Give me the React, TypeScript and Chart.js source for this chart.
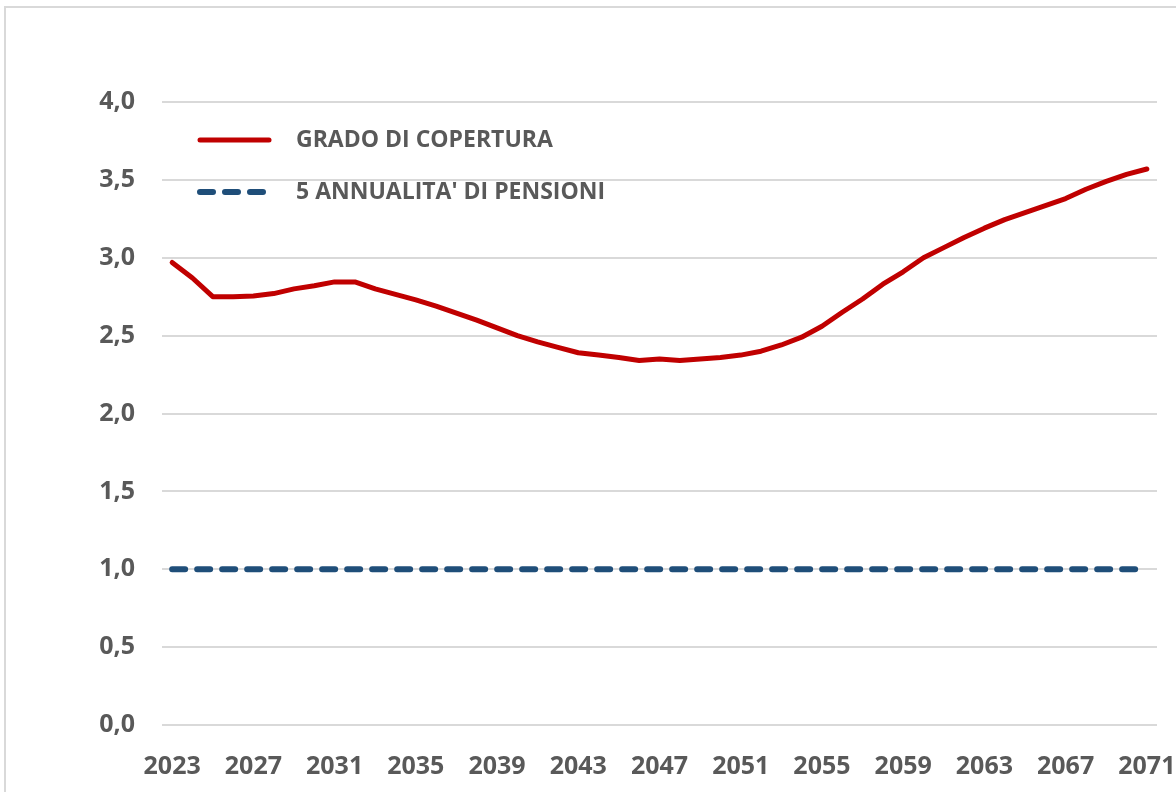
import React, { useEffect, useRef } from "react";
import { Chart, registerables } from "chart.js";

Chart.register(...registerables);

const years: string[] = [
  "2023", "2024", "2025", "2026", "2027", "2028", "2029", "2030", "2031", "2032",
  "2033", "2034", "2035", "2036", "2037", "2038", "2039", "2040", "2041", "2042",
  "2043", "2044", "2045", "2046", "2047", "2048", "2049", "2050", "2051", "2052",
  "2053", "2054", "2055", "2056", "2057", "2058", "2059", "2060", "2061", "2062",
  "2063", "2064", "2065", "2066", "2067", "2068", "2069", "2070", "2071",
];

const gradoCopertura: number[] = [
  2.97, 2.87, 2.75, 2.75, 2.755, 2.77, 2.8, 2.82, 2.845, 2.845,
  2.8, 2.765, 2.73, 2.69, 2.645, 2.6, 2.55, 2.5, 2.46, 2.425,
  2.39, 2.375, 2.36, 2.34, 2.35, 2.34, 2.35, 2.36, 2.375, 2.4,
  2.44, 2.49, 2.56, 2.65, 2.735, 2.83, 2.91, 3.0, 3.065, 3.13,
  3.19, 3.245, 3.29, 3.335, 3.38, 3.44, 3.49, 3.535, 3.57,
];

const cinqueAnnualita: number[] = [
  1, 1, 1, 1, 1, 1, 1, 1, 1, 1,
  1, 1, 1, 1, 1, 1, 1, 1, 1, 1,
  1, 1, 1, 1, 1, 1, 1, 1, 1, 1,
  1, 1, 1, 1, 1, 1, 1, 1, 1, 1,
  1, 1, 1, 1, 1, 1, 1, 1, 1,
];

const seriesLabels: string[] = ["GRADO DI COPERTURA", "5 ANNUALITA' DI PENSIONI"];

const FONT = "'Open Sans', 'Noto Sans', sans-serif";
const TEXT = "#595959";
const RED = "#c00000";
const BLUE = "#1f4e79";

const legendPlugin = {
  id: "insideLegend",
  afterDraw(chart: any) {
    const ctx = chart.ctx;
    const area = chart.chartArea;
    const x0 = area.left + 36;
    const rows = [area.top + 38, area.top + 90];
    ctx.save();
    chart.data.datasets.forEach((ds: any, i: number) => {
      const y = rows[i];
      ctx.beginPath();
      ctx.strokeStyle = ds.borderColor;
      ctx.lineWidth = ds.borderWidth;
      ctx.lineCap = "round";
      ctx.setLineDash(ds.borderDash || []);
      ctx.moveTo(x0 + 2, y);
      ctx.lineTo(x0 + 71, y);
      ctx.stroke();
      ctx.setLineDash([]);
      ctx.fillStyle = TEXT;
      ctx.font = `bold 23px ${FONT}`;
      ctx.textBaseline = "middle";
      ctx.textAlign = "left";
      ctx.fillText(ds.label, x0 + 98, y);
    });
    ctx.restore();
  },
};

export default function App() {
  const canvasRef = useRef<HTMLCanvasElement | null>(null);

  useEffect(() => {
    const canvas = canvasRef.current;
    if (!canvas) return;
    const chart = new Chart(canvas, {
      type: "line",
      data: {
        labels: years,
        datasets: [
          {
            label: seriesLabels[0],
            data: gradoCopertura,
            borderColor: RED,
            backgroundColor: RED,
            borderWidth: 5,
            pointRadius: 0,
            tension: 0,
            borderCapStyle: "round",
            borderJoinStyle: "round",
          },
          {
            label: seriesLabels[1],
            data: cinqueAnnualita,
            borderColor: BLUE,
            backgroundColor: BLUE,
            borderWidth: 6,
            borderDash: [13, 12],
            borderCapStyle: "round",
            pointRadius: 0,
          },
        ],
      },
      options: {
        animation: false,
        responsive: false,
        maintainAspectRatio: false,
        layout: { padding: { top: 102, right: 19, left: 0, bottom: 0 } },
        plugins: {
          legend: { display: false },
          tooltip: { enabled: false },
        },
        scales: {
          x: {
            offset: true,
            grid: { display: false, drawTicks: false },
            border: { display: false },
            ticks: {
              autoSkip: false,
              maxRotation: 0,
              minRotation: 0,
              padding: 27,
              color: TEXT,
              font: { family: FONT, size: 25, weight: "bold" },
              callback: (_v: any, i: number) => (i % 4 === 0 ? years[i] : ""),
            },
            afterFit: (s: any) => {
              s.height = 67;
              s.paddingLeft = 0;
              s.paddingRight = 0;
            },
          },
          y: {
            min: 0,
            max: 4,
            grid: { color: "#d9d9d9", lineWidth: 2, drawTicks: false },
            border: { display: false },
            ticks: {
              stepSize: 0.5,
              padding: 27,
              color: TEXT,
              font: { family: FONT, size: 25, weight: "bold" },
              callback: (v: any) => Number(v).toFixed(1).replace(".", ","),
            },
            afterFit: (s: any) => {
              s.width = 162;
              s.paddingTop = 0;
              s.paddingBottom = 0;
            },
          },
        },
      },
      plugins: [legendPlugin],
    });
    return () => chart.destroy();
  }, []);

  return (
    <div
      style={{
        position: "fixed",
        left: 0,
        top: 0,
        width: 1176,
        height: 792,
        background: "#ffffff",
        overflow: "hidden",
      }}
    >
      <div
        style={{
          position: "absolute",
          left: 4,
          top: 6,
          width: 1250,
          height: 850,
          border: "2px solid #d9d9d9",
          boxSizing: "border-box",
        }}
      />
      <canvas
        ref={canvasRef}
        width={1176}
        height={792}
        style={{ position: "absolute", left: 0, top: 0, width: 1176, height: 792 }}
      />
    </div>
  );
}
